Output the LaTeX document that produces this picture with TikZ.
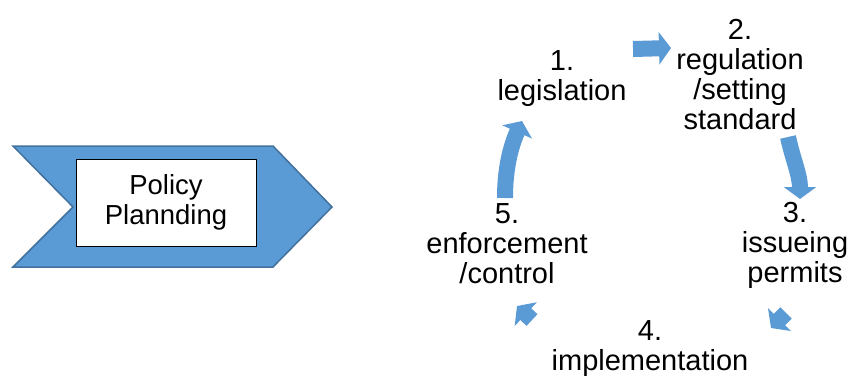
\documentclass[tikz,border=0pt]{standalone}
\usepackage{fontspec}
\setmainfont{Liberation Sans}
\usetikzlibrary{arrows.meta}
\definecolor{cycleblue}{HTML}{5B9BD5}
\definecolor{edgeblue}{HTML}{41719C}

\begin{document}
\begin{tikzpicture}[x=1pt, y=-1pt,
    chevron/.style={fill=cycleblue, draw=edgeblue, line width=1.5pt, line join=miter},
    titlebox/.style={rectangle, draw, fill=white, line width=0.8pt, minimum width=180pt, minimum height=87pt, align=center, font=\fontsize{27.5}{30}\selectfont},
    stage/.style={align=center, inner sep=0pt, anchor=base, font=\fontsize{29}{30}\selectfont},
    arrow/.style={cycleblue, line width=16pt, -{Triangle[width=32pt, length=12pt]}}
]
\useasboundingbox (0,0) rectangle (850,378);

% Chevron with the planning box
\path[chevron] (13,146) -- (273,146) -- (332,207) -- (273,267) -- (13,267) -- (73,207) -- cycle;
\node[titlebox] (plan) at (166,202.5) {Policy\\Plannding};

% Stages of the cycle (base = last line)
\node[stage] (legis) at (562,100) {1.\\legislation};
\node[stage] (regul) at (740,129) {2.\\regulation\\/setting\\standard};
\node[stage] (permit) at (795,282) {3.\\issueing\\permits};
\node[stage] (implem) at (650,370) {4.\\implementation};
\node[stage] (enforce) at (507,283) {5.\\enforcement\\/control};

% End points of the cycle arrows
\coordinate (a1s) at (633,49);
\coordinate (a1e) at (671,48);
\coordinate (a2s) at (788,137);
\coordinate (a2e) at (800,199);
\coordinate (a3s) at (786,313);
\coordinate (a3e) at (771,328);
\coordinate (a4s) at (532,320);
\coordinate (a4e) at (517,306);
\coordinate (a5s) at (505,198);
\coordinate (a5e) at (522,121);

\draw[arrow] (a1s) -- (a1e);
\draw[arrow] (a2s) .. controls (793,160) and (800,175) .. (a2e);
\draw[arrow] (a3s) -- (a3e);
\draw[arrow] (a4s) -- (a4e);
\draw[arrow] (a5s) .. controls (505,170) and (510,148) .. (a5e);

\end{tikzpicture}
\end{document}
